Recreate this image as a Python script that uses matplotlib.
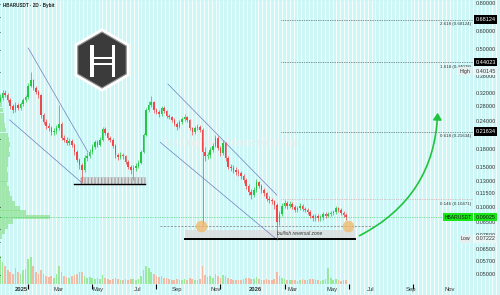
import numpy as np
import matplotlib
matplotlib.use('Agg')
import matplotlib.pyplot as plt
import matplotlib.dates as mdates
import pandas as pd
from matplotlib.patches import Polygon, Rectangle, FancyArrowPatch
from matplotlib.transforms import blended_transform_factory as btf

plt.rcParams['font.family'] = ['Liberation Sans', 'DejaVu Sans']

# ---------------- data ----------------
START = '2024-11-29'
FIRST_OPEN = 0.300
CLOSE = [0.306,0.321,0.315,0.299,0.281,0.270,0.284,0.276,0.287,0.299,
         0.308,0.345,0.367,0.338,0.325,0.315,0.256,0.239,0.229,0.224,
         0.215,0.217,0.224,0.235,0.203,0.199,0.193,0.197,0.189,0.176,
         0.162,0.154,0.146,0.165,0.168,0.176,0.185,0.194,0.189,0.199,
         0.222,0.213,0.203,0.199,0.187,0.170,0.167,0.171,0.168,0.159,
         0.151,0.146,0.149,0.152,0.157,0.176,0.209,0.270,0.284,0.293,
         0.270,0.265,0.259,0.276,0.267,0.253,0.251,0.244,0.234,0.227,
         0.239,0.246,0.251,0.244,0.224,0.215,0.224,0.227,0.220,0.176,
         0.168,0.170,0.179,0.187,0.203,0.183,0.174,0.193,0.165,0.151,
         0.149,0.146,0.143,0.142,0.137,0.132,0.124,0.117,0.113,0.119,
         0.129,0.124,0.119,0.115,0.109,0.107,0.106,0.102,0.086,0.093,
         0.101,0.104,0.101,0.103,0.100,0.097,0.099,0.101,0.098,0.097,
         0.095,0.091,0.089,0.091,0.089,0.090,0.093,0.091,0.093,0.094,
         0.095,0.099,0.097,0.094,0.092,0.090]
HIGH = [0.318,0.330,0.331,0.322,0.304,0.286,0.292,0.290,0.294,0.305,
        0.316,0.356,0.398,0.372,0.345,0.331,0.318,0.262,0.245,0.236,
        0.229,0.225,0.231,0.284,0.238,0.209,0.204,0.203,0.200,0.192,
        0.179,0.166,0.157,0.170,0.175,0.181,0.190,0.199,0.198,0.204,
        0.228,0.226,0.216,0.207,0.202,0.190,0.174,0.176,0.174,0.171,
        0.162,0.154,0.153,0.157,0.162,0.180,0.214,0.276,0.295,0.310,
        0.296,0.276,0.270,0.282,0.280,0.270,0.258,0.255,0.248,0.238,
        0.244,0.252,0.258,0.254,0.247,0.228,0.229,0.233,0.231,0.224,
        0.185,0.176,0.184,0.192,0.208,0.206,0.186,0.198,0.195,0.168,
        0.156,0.153,0.150,0.148,0.145,0.140,0.135,0.127,0.120,0.123,
        0.133,0.131,0.126,0.121,0.117,0.112,0.110,0.108,0.104,0.096,
        0.104,0.107,0.106,0.106,0.105,0.102,0.101,0.104,0.103,0.100,
        0.099,0.097,0.093,0.093,0.093,0.092,0.095,0.095,0.095,0.096,
        0.097,0.101,0.100,0.099,0.096,0.094]
LOW = [0.292,0.300,0.308,0.292,0.274,0.262,0.265,0.270,0.271,0.282,
       0.293,0.303,0.340,0.330,0.318,0.305,0.250,0.234,0.222,0.218,
       0.208,0.210,0.212,0.220,0.198,0.194,0.188,0.189,0.184,0.171,
       0.158,0.148,0.129,0.143,0.161,0.165,0.172,0.181,0.184,0.186,
       0.196,0.208,0.199,0.194,0.183,0.166,0.162,0.164,0.163,0.155,
       0.147,0.140,0.132,0.145,0.149,0.155,0.174,0.206,0.264,0.278,
       0.263,0.258,0.252,0.255,0.262,0.248,0.245,0.239,0.229,0.220,
       0.224,0.235,0.242,0.239,0.219,0.209,0.212,0.219,0.215,0.083,
       0.160,0.163,0.166,0.175,0.184,0.179,0.169,0.171,0.160,0.147,
       0.144,0.141,0.139,0.137,0.133,0.128,0.120,0.113,0.109,0.111,
       0.117,0.121,0.116,0.112,0.106,0.104,0.103,0.098,0.0722,0.083,
       0.091,0.099,0.098,0.099,0.098,0.095,0.095,0.097,0.096,0.095,
       0.093,0.089,0.087,0.087,0.087,0.087,0.088,0.089,0.090,0.091,
       0.092,0.093,0.095,0.092,0.090,0.088]
VOLUME = [28,22,18,14,12,10,16,12,10,14,15,25,27,18,12,10,
          14,10,8,7,8,6,10,18,12,8,7,6,8,9,10,12,
          12,8,6,7,6,5,6,5,9,6,5,4,5,6,5,4,
          4,5,4,5,5,4,5,8,14,18,16,12,10,8,7,8,
          6,6,5,4,4,5,4,4,5,4,6,5,4,4,5,18,
          9,7,8,6,10,8,6,9,8,6,5,4,4,4,4,5,
          6,6,5,5,7,5,4,4,5,4,4,5,12,8,6,5,
          4,4,4,4,3,4,5,4,4,5,5,4,4,3,4,5,
          16,6,4,5,4,3,4,4]
PROFILE_PRICE = [0.30,0.285,0.27,0.256,0.243,0.231,0.22,0.209,0.199,0.189,0.18,
                 0.171,0.163,0.155,0.147,0.14,0.133,0.127,0.121,0.115,0.109,0.104,
                 0.099,0.0945,0.0903,0.086,0.082,0.078,0.074]
PROFILE_VOL = [2,2,3,4,4,5,6,8,9,10,9,10,8,8,7,8,8,7,9,10,12,15,20,26,50,13,8,5,2]

PRICE_TICKS = [0.8, 0.6, 0.5, 0.38, 0.32, 0.28, 0.24, 0.18, 0.15, 0.13, 0.115, 0.10,
               0.085, 0.075, 0.065, 0.057, 0.05]
FIB_LEVELS = [0.68124, 0.44023, 0.21634, 0.1085]
FIB_TEXT = ['2.618 (0.68124)', '1.618 (0.44028)', '0.618 (0.21634)', '0.146 (0.10471)']
FIB_START = '2026-02-10'
LAST_PRICE = 0.09025
HIGH_VAL, LOW_VAL = 0.40145, 0.07222
MONTH_TICKS = ['2025-01-01','2025-03-01','2025-05-01','2025-07-01','2025-09-01','2025-11-01',
               '2026-01-01','2026-03-01','2026-05-01','2026-07-01','2026-09-01','2026-11-01']
MONTH_LABELS = ['2025','Mar','May','Jul','Sep','Nov','2026','Mar','May','Jul','Sep','Nov']

# ---------------- figure ----------------
W, H = 500, 295
fig = plt.figure(figsize=(W/100, H/100), dpi=100)
fig.patch.set_facecolor('#cdf6f6')
bg = fig.add_axes([0, 0, 1, 1])
bg.set_xlim(0, W); bg.set_ylim(H, 0); bg.axis('off'); bg.set_zorder(0)
bg.vlines(np.arange(1, W, 3.9), 0, H, color='white', lw=0.7, alpha=0.85)
bg.text(163, 143, 'TradingView/MasterAnanda', fontsize=8, color='#eeeeee', alpha=0.9,
        va='center', ha='left')

PLOT_R, PLOT_B = 473, 284
ax = fig.add_axes([0, (H-PLOT_B)/H, PLOT_R/W, PLOT_B/H])
ax.set_zorder(3); ax.patch.set_visible(False)
ax.set_yscale('log')
ax.set_ylim(0.0455, 0.832)
dates = pd.date_range(START, periods=len(CLOSE), freq='4D')
xd = mdates.date2num(dates)
ax.set_xlim(mdates.datestr2num('2024-11-29'), mdates.datestr2num('2026-12-07'))
for s in ax.spines.values(): s.set_visible(False)
ax.tick_params(which='both', left=False, bottom=False, labelleft=False, labelbottom=False)

O = np.array([FIRST_OPEN] + CLOSE[:-1]); C = np.array(CLOSE)
Hh = np.array(HIGH); Ll = np.array(LOW)
up = C >= O
cols = np.where(up, '#22c843', '#f0474b')
ax.vlines(xd, Ll, Hh, colors=cols, lw=0.5, zorder=5)
ax.bar(xd, np.maximum(np.abs(C-O), C*0.004), bottom=np.minimum(O, C), width=2.4,
       color=cols, zorder=6, linewidth=0)

# volume
axv = ax.twinx(); axv.set_zorder(2); axv.patch.set_visible(False)
axv.set_ylim(0, 284)
for s in axv.spines.values(): s.set_visible(False)
axv.tick_params(which='both', right=False, labelright=False)
vcols = np.where(up, '#93e893', '#f4b49c')
axv.bar(xd, VOLUME, width=2.6, color=vcols, alpha=0.9, linewidth=0)

# volume profile
axp = ax.twiny(); axp.set_zorder(2); axp.patch.set_visible(False)
axp.set_xlim(0, 473)
for s in axp.spines.values(): s.set_visible(False)
axp.tick_params(which='both', top=False, labeltop=False)
pp = np.array(PROFILE_PRICE)
axp.barh(pp, PROFILE_VOL, height=pp*0.05, left=0, color='#8ee08e', alpha=0.7, linewidth=0)

def d(s):
    return mdates.datestr2num(s)

# channels
chan = [(('2025-01-12', 0.509), ('2025-04-15', 0.176)),
        (('2024-12-14', 0.244), ('2025-04-06', 0.128)),
        (('2025-08-18', 0.352), ('2026-02-04', 0.113)),
        (('2025-08-06', 0.194), ('2026-02-05', 0.0713))]
for (a1, p1), (a2, p2) in chan:
    ax.plot([d(a1), d(a2)], [p1, p2], color='#6f7fc0', lw=0.5, zorder=4)

# zones
ax.add_patch(Rectangle((d('2025-04-03'), 0.1265), d('2025-07-13')-d('2025-04-03'), 0.136-0.1265,
                       facecolor='#d8d8d8', edgecolor='#999999', lw=0.4, ls=(0, (2, 2)),
                       hatch='|||||', alpha=0.8, zorder=3))
ax.plot([d('2025-03-25'), d('2025-07-13')], [0.1265, 0.1265], color='black', lw=1.0, zorder=4)
ax.add_patch(Rectangle((d('2025-09-14'), 0.0724), d('2026-06-06')-d('2025-09-14'), 0.079-0.0724,
                       facecolor='#dcdcdc', edgecolor='none', hatch='|||||', alpha=0.8, zorder=3))
ax.plot([d('2025-09-14'), d('2026-06-06')], [0.0724, 0.0724], color='black', lw=1.4, zorder=4)
ax.text(d('2026-03-12'), 0.0765, 'bullish reversal zone', fontsize=3.5, style='italic',
        color='#333333', ha='center', va='center', zorder=7)
ax.plot([d('2025-08-06'), d('2026-07-04')], [0.0823, 0.0823], color='#777777', lw=0.5,
        ls=(0, (3, 2)), zorder=4)
ax.scatter([d('2025-10-09'), d('2026-05-26')], [0.0823, 0.0823], s=70, color='#f2b766',
           alpha=0.75, zorder=7, linewidths=0)

# fib lines
for lv, t in zip(FIB_LEVELS, FIB_TEXT):
    c = '#e09090' if lv < 0.15 else '#333333'
    ax.plot([d(FIB_START), d('2026-12-07')], [lv, lv], color=c, lw=0.5, ls=(0, (1, 1.5)), zorder=4)
    ax.text(0.996, lv*0.975, t, transform=btf(ax.transAxes, ax.transData), fontsize=3.2,
            ha='right', va='top', color='#333333', zorder=7)
ax.axhline(LAST_PRICE, color='#22c843', lw=0.5, ls=(0, (1, 1.5)), zorder=4)

# arrow
arr = FancyArrowPatch((d('2026-06-09'), 0.0736), (d('2026-10-13'), 0.270),
                      connectionstyle='arc3,rad=0.3', arrowstyle='-|>,head_length=4,head_width=2.5',
                      color='#1fc43c', lw=1.2, zorder=8, mutation_scale=1)
ax.add_patch(arr)

# right axis labels
tr = btf(ax.transAxes, ax.transData)
for v in PRICE_TICKS:
    ax.text(1.006, v, f'{v:.5f}', transform=tr, fontsize=4, va='center', ha='left',
            color='#333333', clip_on=False, zorder=6)
for v in [0.68124, 0.44023, 0.21634]:
    ax.text(1.005, v, f'{v:.5f}', transform=tr, fontsize=4, va='center', ha='left',
            color='white', clip_on=False, zorder=9,
            bbox=dict(boxstyle='square,pad=0.3', fc='black', ec='none'))
ax.text(1.005, LAST_PRICE, f'{LAST_PRICE:.5f}', transform=tr, fontsize=4, va='center',
        ha='left', color='#1a1a1a', clip_on=False, zorder=9,
        bbox=dict(boxstyle='square,pad=0.3', fc='#19e619', ec='none'))
ax.text(0.997, LAST_PRICE, 'HBARUSDT', transform=tr, fontsize=3.6, va='center', ha='right',
        color='#1a1a1a', zorder=9, bbox=dict(boxstyle='square,pad=0.3', fc='#19e619', ec='none'))
for v, lab in [(HIGH_VAL, 'High'), (LOW_VAL, 'Low')]:
    ax.text(1.005, v, f'{v:.5f}', transform=tr, fontsize=4, va='center', ha='left',
            color='#333333', clip_on=False, zorder=9,
            bbox=dict(boxstyle='square,pad=0.3', fc='#eaf6f6', ec='none'))
    ax.text(0.995, v, lab, transform=tr, fontsize=3.8, va='center', ha='right',
            color='#333333', zorder=9, bbox=dict(boxstyle='square,pad=0.3', fc='#e6eeee', ec='none'))

# bottom axis labels
trx = btf(ax.transData, ax.transAxes)
for s, lab in zip(MONTH_TICKS, MONTH_LABELS):
    ax.text(d(s), -0.018, lab, transform=trx, fontsize=4.2, ha='center', va='center',
            color='#333333', fontweight='bold' if lab.isdigit() else 'normal', clip_on=False)

ax.axhline(0.0455, color='#e8a0b0', lw=0.5, ls=(0, (1, 1)))
ax.axvline(d('2026-12-07'), color='#c4bdf0', lw=0.8)

# overlay: title + logo
ov = fig.add_axes([0, 0, 1, 1]); ov.set_xlim(0, W); ov.set_ylim(H, 0); ov.axis('off')
ov.set_zorder(10)
ov.text(3, 5, 'HBARUSDT · 2D · Bybit', fontsize=3.3, color='#222222', va='center',
        fontweight='bold')
cx, cy, R = 102, 60, 30
ang = np.deg2rad(np.arange(90, 450, 60))
hexpts = np.c_[cx + R*np.cos(ang), cy - R*np.sin(ang)]
ov.add_patch(Polygon(hexpts, closed=True, fc='#3b3b3b', ec='white', lw=2.2))
ov.add_patch(Polygon(np.c_[cx + (R-2)*np.cos(ang), cy - (R-2)*np.sin(ang)], closed=True,
                     fc='none', ec='#9a9a9a', lw=0.8))
for rx, ry, rw, rh in [(90, 45, 3.5, 32), (111.5, 45, 3.5, 32), (93, 56.5, 19, 2.5), (93, 62.5, 19, 2.5)]:
    ov.add_patch(Rectangle((rx, ry), rw, rh, fc='white', ec='none'))

fig.savefig('out.png', dpi=100, facecolor=fig.get_facecolor())
